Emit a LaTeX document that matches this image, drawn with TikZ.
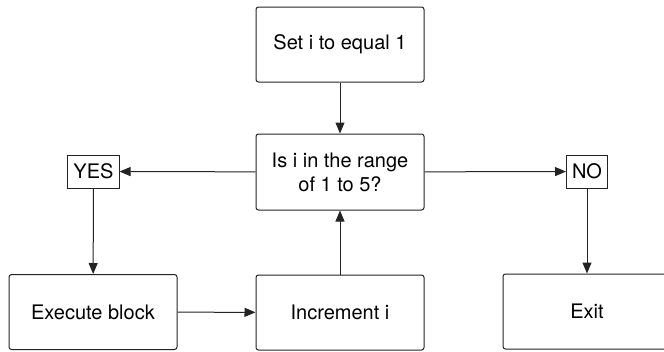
\documentclass[tikz,border=0pt]{standalone}
\usepackage{fontspec}
\setmainfont{TeX Gyre Heros}
\usepackage{xcolor}
\usepackage{tikz}
\usetikzlibrary{
	arrows.meta,
	positioning
}
\definecolor{BoxLine}{RGB}{35,35,35}

\begin{document}
\begin{tikzpicture}[x=1pt, y=-1pt,
		block/.style={draw=BoxLine, line width=1pt, rounded corners=2.5pt, minimum width=168pt, minimum height=75pt, align=center, font=\fontsize{20}{24}\selectfont},
		tag/.style={draw=BoxLine, line width=1pt, minimum height=33pt, inner xsep=5.5pt, font=\fontsize{20}{24}\selectfont},
		flow/.style={-{Triangle[length=11pt, width=9pt]}, line width=1pt, BoxLine}]
		\clip (0,0) rectangle (664,351);
		% 流程框
		\node[block] (set) at (340,44.5) {Set i to equal 1};
		\node[block, minimum height=76pt] (check) at (340,172) {Is i in the range\\of 1 to 5?};
		\node[tag] (yes) at (93.5,171.5) {YES};
		\node[tag] (no) at (587,171.5) {NO};
		\node[block] (exec) at (93,312) {Execute block};
		\node[block] (incr) at (340,312.5) {Increment i};
		\node[block] (exit) at (587,311.5) {Exit};
		% 箭头
		\draw[flow] (set) -- (check);
		\draw[flow] (check) -- (yes);
		\draw[flow] (check) -- (no);
		\draw[flow] (yes) -- (exec);
		\draw[flow] (no) -- (exit);
		\draw[flow] (exec) -- (incr);
		\draw[flow] (incr) -- (check);
	\end{tikzpicture}
\end{document}
